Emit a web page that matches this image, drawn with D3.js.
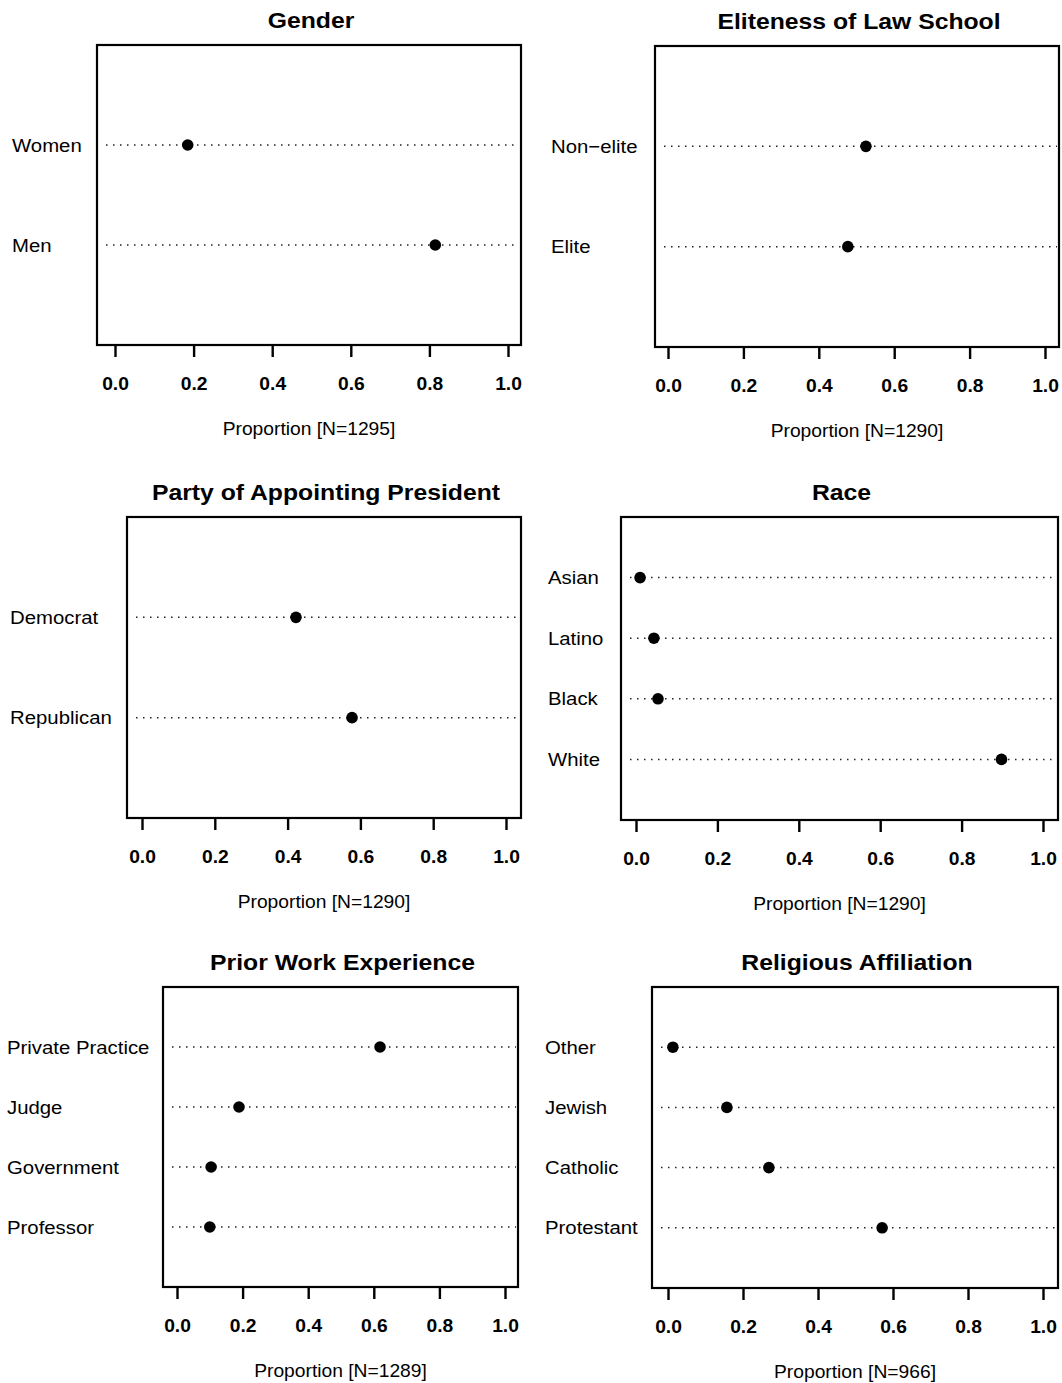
<!DOCTYPE html>
<html><head><meta charset="utf-8">
<script src="https://cdn.jsdelivr.net/npm/d3@7"></script>
<style>body{margin:0;background:#fff}svg{display:block}text{font-family:"Liberation Sans",Arial,sans-serif;fill:#000}</style>
</head><body>
<svg id="chart" width="1062" height="1383"></svg>
<script>
// ---- data ----
const titles = ["Gender","Eliteness of Law School","Party of Appointing President","Race","Prior Work Experience","Religious Affiliation"];
const genderCats = ["Women","Men"];
const genderVals = [0.185,0.815];
const eliteCats = ["Non\u2212elite","Elite"];
const eliteVals = [0.525,0.477];
const partyCats = ["Democrat","Republican"];
const partyVals = [0.423,0.577];
const raceCats = ["Asian","Latino","Black","White"];
const raceVals = [0.010,0.044,0.054,0.898];
const workCats = ["Private Practice","Judge","Government","Professor"];
const workVals = [0.619,0.189,0.104,0.100];
const religCats = ["Other","Jewish","Catholic","Protestant"];
const religVals = [0.013,0.157,0.269,0.571];
const nLabels = ["Proportion [N=1295]","Proportion [N=1290]","Proportion [N=1290]","Proportion [N=1290]","Proportion [N=1289]","Proportion [N=966]"];
const tickVals = [0,0.2,0.4,0.6,0.8,1.0];

const catsList = [genderCats,eliteCats,partyCats,raceCats,workCats,religCats];
const valsList = [genderVals,eliteVals,partyVals,raceVals,workVals,religVals];

// ---- layout (pixel geometry of each panel) ----
const layout = [
  {x0:115, x1:508, left:97,  right:521,  top:45,  bottom:345,  labelX:12},
  {x0:668, x1:1045,left:655, right:1059, top:46,  bottom:347,  labelX:551},
  {x0:142, x1:506, left:127, right:521,  top:517, bottom:818,  labelX:10},
  {x0:636, x1:1043,left:621, right:1058, top:517, bottom:820,  labelX:548},
  {x0:177, x1:505, left:163, right:518,  top:987, bottom:1287, labelX:7},
  {x0:668, x1:1043,left:652, right:1058, top:987, bottom:1288, labelX:545}
];
const SX = 1.1; // horizontal stretch of the scanned lettering

const svg = d3.select("#chart");

layout.forEach((L,i)=>{
  const cats = catsList[i], vals = valsList[i], n = cats.length;
  const x = d3.scaleLinear().domain([0,1]).range([L.x0,L.x1]);
  const y = d3.scaleLinear().domain([0,n+1]).range([L.bottom,L.top]);
  const g = svg.append("g");
  const pos = j => n - j;

  // dotted reference lines
  g.selectAll("line.ref").data(cats).join("line").attr("class","ref")
    .attr("x1",L.left+9).attr("x2",L.right-2)
    .attr("y1",(d,j)=>y(pos(j))).attr("y2",(d,j)=>y(pos(j)))
    .attr("stroke","#222").attr("stroke-width",1.5)
    .attr("stroke-dasharray","1.5,5.5");

  // box
  g.append("rect").attr("x",L.left).attr("y",L.top)
    .attr("width",L.right-L.left).attr("height",L.bottom-L.top)
    .attr("fill","none").attr("stroke","#000").attr("stroke-width",2.2);

  // points
  g.selectAll("circle").data(vals).join("circle")
    .attr("cx",d=>x(d)).attr("cy",(d,j)=>y(pos(j))).attr("r",5.8).attr("fill","#000");

  // category labels
  g.selectAll("text.cat").data(cats).join("text").attr("class","cat")
    .attr("transform",(d,j)=>`translate(${L.labelX},${y(pos(j))+6.5}) scale(${SX},1)`)
    .attr("font-size",18.5).text(d=>d);

  // x axis
  const ax = d3.axisBottom(x).tickValues(tickVals).tickFormat(d3.format(".1f")).tickSize(12).tickPadding(21);
  const axg = g.append("g").attr("transform",`translate(0,${L.bottom})`).call(ax);
  axg.select(".domain").remove();
  axg.selectAll(".tick line").attr("stroke","#000").attr("stroke-width",2.4);
  axg.selectAll(".tick text").attr("font-size",17.5).attr("font-weight","bold")
    .attr("font-family","'Liberation Sans',Arial,sans-serif").attr("fill","#000")
    .attr("transform",`scale(${SX},1)`);

  // title
  g.append("text").attr("transform",`translate(${(L.left+L.right)/2+2},${L.top-17}) scale(${SX},1)`)
    .attr("text-anchor","middle").attr("font-size",22.5).attr("font-weight","bold").text(titles[i]);
  // x label
  g.append("text").attr("transform",`translate(${(L.left+L.right)/2},${L.bottom+90}) scale(${SX},1)`)
    .attr("text-anchor","middle").attr("font-size",17.5).text(nLabels[i]);
});
</script>
</body></html>
